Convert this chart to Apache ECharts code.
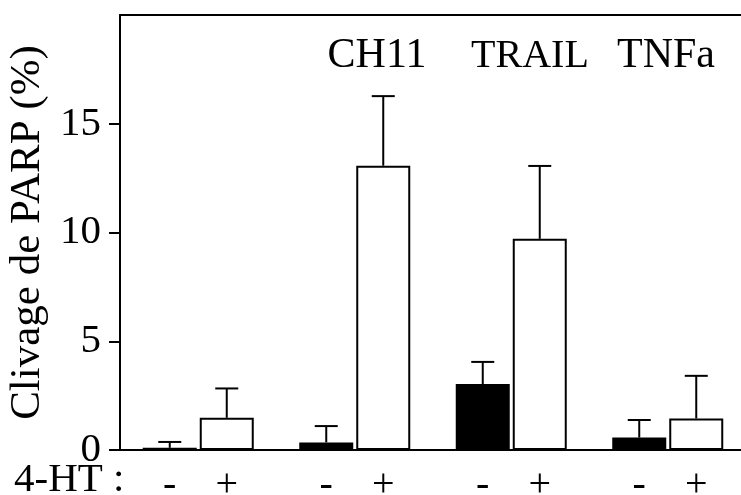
<!DOCTYPE html>
<html>
<head>
<meta charset="utf-8">
<script src="https://cdn.jsdelivr.net/npm/echarts@6/dist/echarts.min.js"></script>
<style>
  html, body { margin: 0; padding: 0; background: #fff; }
  #chart { width: 741px; height: 495px; }
</style>
</head>
<body>
<div id="chart"></div>
<script>
// ---- data ----
var categories = ['Contrôle', 'CH11', 'TRAIL', 'TNFa'];
var groupLabels = ['CH11', 'TRAIL', 'TNFa'];
var minusValues = [0.10, 0.35, 3.03, 0.57];
var minusErrTop = [0.37, 1.10, 4.05, 1.38];
var plusValues = [1.48, 13.07, 9.71, 1.45];
var plusErrTop = [2.83, 16.27, 13.06, 3.41];
var yTicks = [0, 5, 10, 15];
var treatLabels = ['-', '+'];

// ---- style constants ----
var FONT = 'Liberation Serif';
var FS = 40;
var BAR_W = 54;
var GAP = 3;
var CAP = 23;

var chart = echarts.init(document.getElementById('chart'), null, { renderer: 'canvas' });

function errorSeries(vals, tops, dir) {
  return {
    type: 'custom',
    z: 5,
    data: vals.map(function (v, i) { return [i, v, tops[i]]; }),
    renderItem: function (params, api) {
      var p0 = api.coord([api.value(0), api.value(1)]);
      var p1 = api.coord([api.value(0), api.value(2)]);
      var x = p0[0] + dir * (BAR_W / 2 + GAP / 2);
      var st = { stroke: '#000', lineWidth: 2 };
      return {
        type: 'group',
        children: [
          { type: 'line', shape: { x1: x, y1: p0[1], x2: x, y2: p1[1] }, style: st },
          { type: 'line', shape: { x1: x - CAP / 2, y1: p1[1], x2: x + CAP / 2, y2: p1[1] }, style: st }
        ]
      };
    }
  };
}

var option = {
  backgroundColor: '#fff',
  animation: false,
  grid: { left: 120, right: -5, top: 15, bottom: 45, containLabel: false, outerBoundsMode: 'none' },
  xAxis: [
    {
      type: 'category',
      data: categories,
      position: 'bottom',
      axisLine: { show: true, lineStyle: { color: '#000', width: 2 } },
      axisTick: { show: false },
      axisLabel: { show: false }
    },
    {
      type: 'category',
      data: categories,
      position: 'top',
      axisLine: { show: true, lineStyle: { color: '#000', width: 2 } },
      axisTick: { show: false },
      axisLabel: { show: false }
    }
  ],
  yAxis: {
    type: 'value',
    min: 0,
    max: 20,
    interval: 5,
    name: 'Clivage de PARP (%)',
    nameLocation: 'middle',
    nameRotate: 90,
    nameGap: 64,
    nameTextStyle: { fontFamily: FONT, fontSize: 43, color: '#000' },
    axisLine: { show: true, lineStyle: { color: '#000', width: 2 } },
    axisTick: { show: true, length: 11, customValues: yTicks, lineStyle: { color: '#000', width: 2 } },
    axisLabel: {
      customValues: yTicks,
      margin: 19,
      fontFamily: FONT,
      fontSize: 41,
      color: '#000'
    },
    splitLine: { show: false }
  },
  series: [
    {
      type: 'bar',
      name: '-',
      data: minusValues,
      barWidth: BAR_W,
      barGap: (GAP / BAR_W * 100) + '%',
      itemStyle: { color: '#000', borderColor: '#000', borderWidth: 2 },
      label: {
        show: true,
        position: 'bottom',
        distance: 15,
        formatter: function () { return treatLabels[0]; },
        fontFamily: FONT, fontSize: FS, color: '#000'
      }
    },
    {
      type: 'bar',
      name: '+',
      data: plusValues,
      barWidth: BAR_W,
      itemStyle: { color: '#fff', borderColor: '#000', borderWidth: 2 },
      label: {
        show: true,
        position: 'bottom',
        distance: 15,
        formatter: function () { return treatLabels[1]; },
        fontFamily: FONT, fontSize: FS, color: '#000'
      }
    },
    errorSeries(minusValues, minusErrTop, -1),
    errorSeries(plusValues, plusErrTop, 1)
  ],
  graphic: [
    { type: 'text', left: 14, top: 460, style: { text: '4-HT :', font: '41px "' + FONT + '"', fill: '#000' } },
    { type: 'text', x: 377, y: 56, style: { text: groupLabels[0], font: '42px "' + FONT + '"', fill: '#000', align: 'center', verticalAlign: 'middle' } },
    { type: 'text', x: 530, y: 56, style: { text: groupLabels[1], font: '40px "' + FONT + '"', fill: '#000', align: 'center', verticalAlign: 'middle' } },
    { type: 'text', x: 666, y: 56, style: { text: groupLabels[2], font: '42px "' + FONT + '"', fill: '#000', align: 'center', verticalAlign: 'middle' } }
  ]
};
chart.setOption(option);
</script>
</body>
</html>
